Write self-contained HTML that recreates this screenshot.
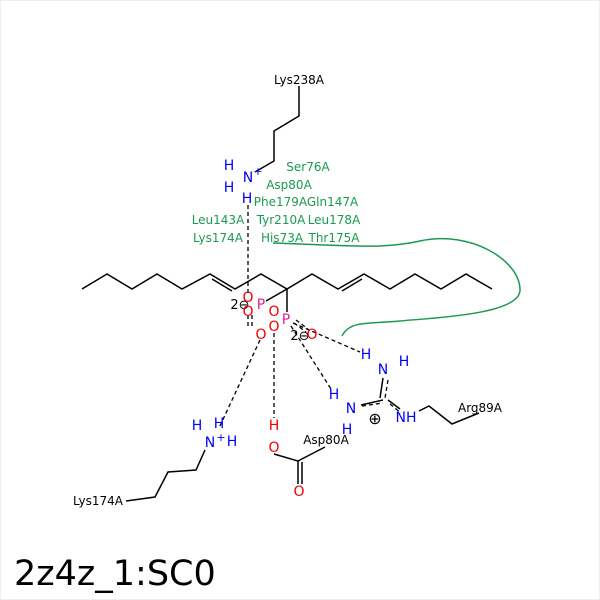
<!DOCTYPE html>
<html><head><style>body{margin:0;background:#fff}svg{display:block}</style></head><body>
<svg width="600" height="600" viewBox="0 0 600 600" xmlns="http://www.w3.org/2000/svg" font-family="DejaVu Sans, Liberation Sans, sans-serif">
<rect x="0.5" y="0.5" width="599" height="599" fill="#fff" stroke="#eee"/>
<g stroke="#000" stroke-width="1.5" fill="none">
<polyline points="82,289 107,274 132,289 157,274 182,289 210,274 235,289 261,274 287,289 312,274 338,289 364,274 390,289 415,274 441,289 466,274 492,289"/>
<line x1="212" y1="279" x2="232" y2="291"/>
<line x1="362" y1="279" x2="342" y2="291"/>
<line x1="287" y1="289" x2="266" y2="301"/>
<line x1="287" y1="289" x2="287" y2="312"/>
<polyline points="299,86 299,116 274,131 274,161 255,172"/>
<polyline points="205,450 196,470 168,472 155,497 126,501"/>
<polyline points="274,454 298,461 298,484"/>
<line x1="302" y1="462" x2="302" y2="484"/>
<line x1="298" y1="461" x2="325" y2="447"/>
<polyline points="419,411 429,406 452,424 479,413"/>
<line x1="388" y1="400" x2="400" y2="409"/>
<line x1="383" y1="400" x2="361" y2="405"/>
<line x1="383" y1="378" x2="380" y2="398"/>
</g>
<g stroke="#000" stroke-width="1.3" fill="none" stroke-dasharray="4,3">
<line x1="248" y1="205" x2="248" y2="293"/>
<line x1="260" y1="340" x2="219" y2="428"/>
<line x1="274" y1="333" x2="274" y2="418"/>
<line x1="293" y1="323" x2="360" y2="352"/>
<line x1="291" y1="326" x2="331" y2="389"/>
<line x1="296" y1="320" x2="308" y2="329"/>
<line x1="294" y1="323" x2="306" y2="332"/>
<line x1="388" y1="380" x2="385" y2="398"/>
<line x1="362" y1="406" x2="383" y2="403"/>
<line x1="390" y1="404" x2="401" y2="413"/>
<line x1="248" y1="315" x2="248" y2="328"/>
<line x1="252" y1="315" x2="252" y2="328"/>
</g>
<path d="M273,243 C340,245 380,250 420,241 C470,230 520,260 520,290 C520,315 430,318 400,321 C370,324 350,320 342,336" stroke="#1a9a50" stroke-width="1.5" fill="none"/>
<g font-size="12" fill="#000">
<text x="299" y="84" text-anchor="middle">Lys238A</text>
<text x="98" y="505" text-anchor="middle">Lys174A</text>
<text x="326" y="444" text-anchor="middle">Asp80A</text>
<text x="480" y="412" text-anchor="middle">Arg89A</text>
<text x="240" y="309" text-anchor="middle" font-size="13">2⊖</text>
<text x="300" y="340" text-anchor="middle" font-size="13">2⊖</text>
<text x="375" y="424" text-anchor="middle" font-size="16">⊕</text>
</g>
<g font-size="14" fill="#e00" text-anchor="middle">
<text x="248" y="302">O</text><text x="248" y="316">O</text><text x="261" y="339">O</text>
<text x="274" y="316">O</text><text x="274" y="331">O</text><text x="312" y="339">O</text>
<text x="274" y="430">H</text><text x="274" y="452">O</text><text x="299" y="496">O</text>
</g>
<g font-size="14" fill="#e0209a" text-anchor="middle">
<text x="261" y="309">P</text><text x="286" y="324">P</text>
</g>
<g font-size="14" fill="#00f" text-anchor="middle">
<text x="248" y="182">N</text><text x="258" y="175" font-size="11">+</text>
<text x="229" y="170">H</text><text x="229" y="192">H</text><text x="247" y="203">H</text>
<text x="210" y="447">N</text><text x="221" y="441" font-size="11">+</text>
<text x="197" y="430">H</text><text x="219" y="428">H</text><text x="232" y="446">H</text>
<text x="383" y="374">N</text><text x="366" y="359">H</text><text x="404" y="366">H</text>
<text x="351" y="413">N</text><text x="334" y="399">H</text><text x="347" y="434">H</text>
<text x="406" y="422">NH</text>
</g>
<g font-size="12" fill="#1a9a50" text-anchor="middle">
<text x="308" y="171">Ser76A</text>
<text x="289" y="189">Asp80A</text>
<text x="306" y="206">Phe179AGln147A</text>
<text x="218" y="224">Leu143A</text>
<text x="281" y="224">Tyr210A</text>
<text x="334" y="224">Leu178A</text>
<text x="218" y="242">Lys174A</text>
<text x="282" y="242">His73A</text>
<text x="334" y="242">Thr175A</text>
</g>
<text x="14" y="585" font-size="35" fill="#000">2z4z_1:SC0</text>
</svg>
</body></html>
